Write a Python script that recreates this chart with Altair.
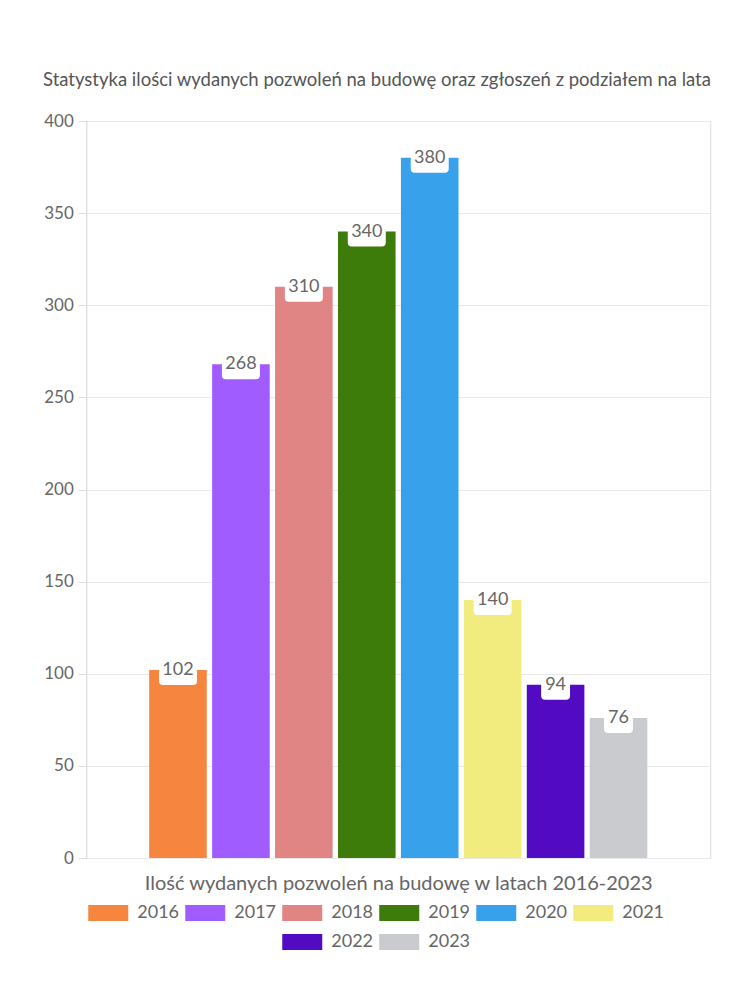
import altair as alt
import pandas as pd

years = ["2016", "2017", "2018", "2019", "2020", "2021", "2022", "2023"]
values = [102, 268, 310, 340, 380, 140, 94, 76]
colors = ["#F5853F", "#A05CFF", "#E18584", "#3D7B0B", "#37A2EB", "#F1EC7D", "#520BC3", "#C9CBCF"]
y_ticks = [0, 50, 100, 150, 200, 250, 300, 350, 400]
legend_rows = [years[:6], years[6:]]

title_text = "Statystyka ilości wydanych pozwoleń na budowę oraz zgłoszeń z podziałem na lata"
x_title = "Ilość wydanych pozwoleń na budowę w latach 2016-2023"

FONT = "Lato"
TXT = "#666666"
LEGEND_SHIFT = -19

df = pd.DataFrame({"year": years, "value": values})
color_scale = alt.Scale(domain=years, range=colors)

box3 = ("M-0.79,-0.63 L0.79,-0.63 Q1,-0.63 1,-0.42 L1,0.42 Q1,0.63 0.79,0.63 "
        "L-0.79,0.63 Q-1,0.63 -1,0.42 L-1,-0.42 Q-1,-0.63 -0.79,-0.63 Z")
box2 = ("M-0.55,-0.63 L0.55,-0.63 Q0.76,-0.63 0.76,-0.42 L0.76,0.42 Q0.76,0.63 0.55,0.63 "
        "L-0.55,0.63 Q-0.76,0.63 -0.76,0.42 L-0.76,-0.42 Q-0.76,-0.63 -0.55,-0.63 Z")

base = alt.Chart(df).encode(
    x=alt.X(
        "year:N",
        sort=years,
        scale=alt.Scale(paddingInner=0.085, paddingOuter=1.0),
        axis=alt.Axis(
            title=x_title, labels=False, ticks=False, domain=False,
            titleFontSize=20, titleFontWeight="normal", titleColor=TXT,
            titlePadding=15, titleFont=FONT,
        ),
    ),
    y=alt.Y(
        "value:Q",
        scale=alt.Scale(domain=[0, 400], nice=False),
        axis=alt.Axis(
            title=None, values=y_ticks, labelFontSize=17, labelColor=TXT,
            labelFont=FONT, labelPadding=5, tickSize=8, tickColor="#dddddd",
            domainColor="#dddddd", gridColor="#e9e9e9",
        ),
    ),
)

bars = base.mark_bar().encode(
    color=alt.Color("year:N", scale=color_scale, legend=None)
)

boxes = base.mark_point(filled=True, opacity=1, color="white", size=1444, yOffset=3).encode(
    shape=alt.condition("datum.value >= 100", alt.value(box3), alt.value(box2))
)

labels = base.mark_text(fontSize=18, color=TXT, font=FONT, baseline="middle").encode(
    text="value:Q"
)

main = alt.layer(bars, boxes, labels).properties(
    width=624, height=737, view=alt.ViewBackground(stroke="#dddddd")
)


def legend_row(row, h):
    ldf = pd.DataFrame({"year": row})
    lb = alt.Chart(ldf).encode(
        x=alt.X("year:N", sort=row, axis=None,
                scale=alt.Scale(paddingInner=0, paddingOuter=0)),
    )
    sym = lb.mark_tick(orient="horizontal", size=40, thickness=16, opacity=1,
                       xOffset=-28.5 + LEGEND_SHIFT).encode(
        color=alt.Color("year:N", scale=color_scale, legend=None)
    )
    txt = lb.mark_text(align="left", dx=0.5 + LEGEND_SHIFT, fontSize=18, color=TXT,
                       font=FONT, baseline="middle").encode(text="year:N")
    return alt.layer(sym, txt).properties(
        width=97 * len(row), height=h, view=alt.ViewBackground(stroke="transparent")
    )


rows = [legend_row(legend_rows[0], 36), legend_row(legend_rows[1], 14)]

chart = alt.vconcat(main, *rows, spacing=0, center=True).properties(
    title=alt.TitleParams(
        text=title_text, anchor="middle", fontSize=18.5, fontWeight="normal",
        color="#555555", font=FONT, offset=22,
    ),
    padding={"left": 42, "top": 71, "right": 30, "bottom": 10},
).configure(font=FONT).resolve_scale(color="shared")

chart.save("out.html", embed_options={"renderer": "svg", "actions": False})
